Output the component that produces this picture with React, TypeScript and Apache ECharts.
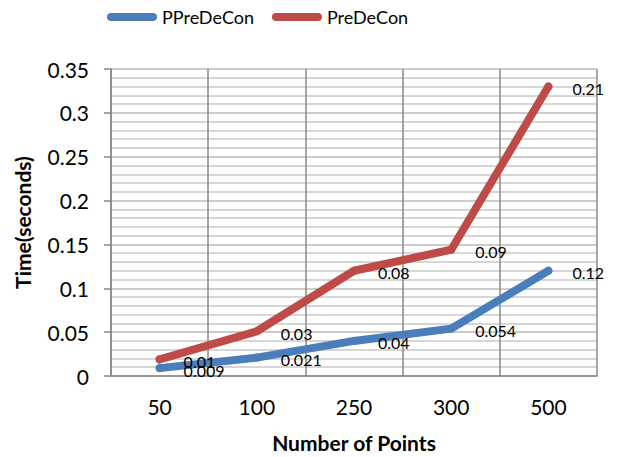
import React, { useEffect, useRef } from "react";
import * as echarts from "echarts";

const categories = ["50", "100", "250", "300", "500"];
const pPreDeCon = [0.009, 0.021, 0.04, 0.054, 0.12];
const preDeCon = [0.01, 0.03, 0.08, 0.09, 0.21];
const seriesNames = ["PPreDeCon", "PreDeCon"];
const colors = ["#4A7EBB", "#BE4B48"];

const FONT = "Lato, 'Noto Sans', sans-serif";
const pill = "path://M4,0 H46 A4,4 0 0 1 46,8 H4 A4,4 0 0 1 4,0 Z";

export default function App() {
  const ref = useRef<HTMLDivElement>(null);
  useEffect(() => {
    if (!ref.current) return;
    const chart = echarts.init(ref.current, null, { renderer: "svg" });
    const mkSeries = (name: string, data: number[], color: string) => ({
      name,
      type: "line",
      stack: "total",
      data,
      symbol: "circle",
      symbolSize: 8,
      itemStyle: { color },
      lineStyle: { color, width: 8, cap: "round", join: "round" },
      label: {
        show: true,
        position: "right",
        distance: 20,
        offset: [0, 2],
        color: "#000",
        fontSize: 16,
        fontFamily: FONT,
      },
      emphasis: { disabled: true },
    });
    chart.setOption({
      animation: false,
      textStyle: { fontFamily: FONT },
      legend: {
        top: 8,
        left: 107,
        padding: 0,
        itemWidth: 50,
        itemHeight: 8,
        itemGap: 18,
        textStyle: { fontSize: 18, color: "#000", fontFamily: FONT },
        data: seriesNames.map((n) => ({ name: n, icon: pill })),
      },
      grid: {
        left: 111,
        right: 23,
        top: 69,
        bottom: 81,
        containLabel: false,
        outerBoundsMode: "none",
      },
      xAxis: {
        type: "category",
        data: categories,
        boundaryGap: true,
        name: "Number of Points",
        nameLocation: "middle",
        nameGap: 56,
        nameTextStyle: { fontSize: 21, fontWeight: "bold", color: "#000", fontFamily: FONT },
        axisLine: { lineStyle: { color: "#888", width: 1.5 } },
        axisTick: { show: false },
        axisLabel: { fontSize: 21, color: "#000", margin: 20, fontFamily: FONT },
        splitLine: { show: true, lineStyle: { color: "#888", width: 1.5 } },
      },
      yAxis: {
        type: "value",
        min: 0,
        max: 0.35,
        interval: 0.05,
        name: "Time(seconds)",
        nameLocation: "middle",
        nameGap: 78,
        nameTextStyle: { fontSize: 21, fontWeight: "bold", color: "#000", fontFamily: FONT },
        axisLine: { show: true, lineStyle: { color: "#888", width: 1.5 } },
        axisTick: { show: true, length: 7, lineStyle: { color: "#888", width: 1.5 } },
        axisLabel: { fontSize: 21, color: "#000", margin: 22, fontFamily: FONT },
        splitLine: { show: true, lineStyle: { color: "#bbb", width: 1.5 } },
        minorTick: { show: false, splitNumber: 5 },
        minorSplitLine: { show: true, lineStyle: { color: "#c8c8c8", width: 1.5 } },
      },
      series: [
        mkSeries(seriesNames[0], pPreDeCon, colors[0]),
        mkSeries(seriesNames[1], preDeCon, colors[1]),
      ],
    });
    return () => chart.dispose();
  }, []);
  return (
    <div
      ref={ref}
      style={{ position: "fixed", left: 0, top: 0, width: 620, height: 457, background: "#fff" }}
    />
  );
}
